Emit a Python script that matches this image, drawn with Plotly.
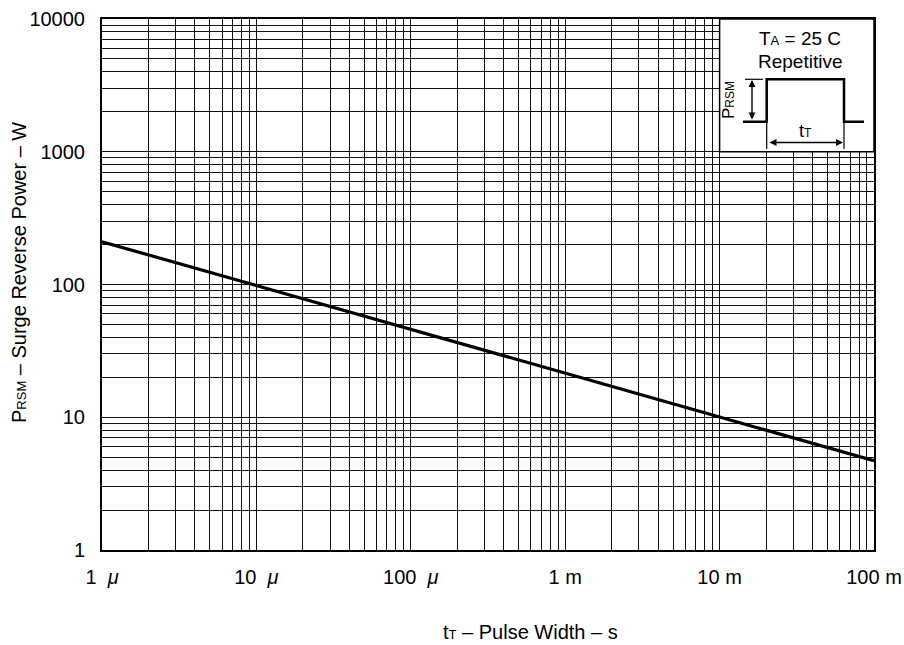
import plotly.graph_objects as go

# ---- data ----
pulse_width_s = [1e-6, 1e-5, 1e-4, 1e-3, 1e-2, 1e-1]
surge_power_w = [210, 98, 46, 21.5, 10, 4.7]

x_decades = [1e-6, 1e-5, 1e-4, 1e-3, 1e-2, 1e-1]
x_decade_labels = ["1&nbsp; <i>μ</i>", "10&nbsp; <i>μ</i>", "100&nbsp; <i>μ</i>", "1 m", "10 m", "100 m"]
y_decades = [1, 10, 100, 1000, 10000]
y_decade_labels = ["1", "10", "100", "1000", "10000"]

FONT = "Liberation Sans, Arial, Helvetica, sans-serif"


def log_grid(decades):
    vals, texts = [], []
    for i, d in enumerate(decades):
        vals.append(d)
        texts.append(None)
        if i < len(decades) - 1:
            for m in range(2, 10):
                vals.append(d * m)
                texts.append("")
    return vals, texts


xv, xt = log_grid(x_decades)
xt = [x_decade_labels[x_decades.index(v)] if t is None else t for v, t in zip(xv, xt)]
yv, yt = log_grid(y_decades)
yt = [y_decade_labels[y_decades.index(v)] if t is None else t for v, t in zip(yv, yt)]

fig = go.Figure()
fig.add_trace(go.Scatter(x=pulse_width_s, y=surge_power_w, mode="lines",
                         line=dict(color="black", width=3.2), showlegend=False,
                         hoverinfo="skip"))

L, R, T, B = 102, 30, 19, 95
W, H = 904, 645
pw, ph = W - L - R, H - T - B


def px(x):
    return (x - L) / pw


def py(y):
    return (H - B - y) / ph


fig.update_layout(
    width=W, height=H,
    margin=dict(l=L, r=R, t=T, b=B, pad=0, autoexpand=False),
    paper_bgcolor="white", plot_bgcolor="white",
    font=dict(family=FONT, size=20, color="black"),
    xaxis=dict(type="log", range=[-6, -1], tickvals=xv, ticktext=xt,
               showgrid=True, gridcolor="#111111", gridwidth=1,
               showline=True, linecolor="black", linewidth=2, mirror=True,
               ticks="", zeroline=False, ticklabelstandoff=8, automargin=False,
               tickfont=dict(size=20)),
    yaxis=dict(type="log", range=[0, 4], tickvals=yv, ticktext=yt,
               showgrid=True, gridcolor="#111111", gridwidth=1,
               showline=True, linecolor="black", linewidth=2, mirror=True,
               ticks="", zeroline=False, ticklabelstandoff=11, automargin=False,
               tickfont=dict(size=20)),
)

# axis titles
fig.add_annotation(xref="paper", yref="paper", x=px(530), y=py(632),
                   text="t<span style='font-size:13px'>T</span> – Pulse Width – s",
                   showarrow=False, font=dict(size=20), xanchor="center", yanchor="middle")
fig.add_annotation(xref="paper", yref="paper", x=px(19), y=py(273),
                   text="P<span style='font-size:13px'>RSM</span> – Surge Reverse Power – W",
                   showarrow=False, textangle=-90, font=dict(size=20),
                   xanchor="center", yanchor="middle")

# inset box (covers 10m-100m, 1000-10000 region)
fig.add_shape(type="rect", xref="paper", yref="paper", x0=0.8, x1=1.0, y0=0.75, y1=1.0,
              fillcolor="white", line=dict(color="black", width=1.5), layer="above")

fig.add_annotation(xref="paper", yref="paper", x=px(800), y=py(38),
                   text="T<span style='font-size:13px'>A</span> = 25 C",
                   showarrow=False, font=dict(size=19), xanchor="center", yanchor="middle")
fig.add_annotation(xref="paper", yref="paper", x=px(800), y=py(62),
                   text="Repetitive", showarrow=False, font=dict(size=19),
                   xanchor="center", yanchor="middle")

# pulse waveform
path = "M {a},{b} L {c},{b} L {c},{d} L {e},{d} L {e},{b} L {f},{b}".format(
    a=px(743), b=py(121.7), c=px(766.7), d=py(79.3), e=px(844), f=px(864))
fig.add_shape(type="path", xref="paper", yref="paper", path=path,
              line=dict(color="black", width=2.5), layer="above")
# short top reference line
fig.add_shape(type="line", xref="paper", yref="paper", x0=px(745), x1=px(763),
              y0=py(79.3), y1=py(79.3), line=dict(color="black", width=1.2), layer="above")
# extension lines for t_T
for xx in (766.7, 844):
    fig.add_shape(type="line", xref="paper", yref="paper", x0=px(xx), x1=px(xx),
                  y0=py(121.7), y1=py(149), line=dict(color="black", width=1.2), layer="above")

# vertical double arrow
fig.add_annotation(xref="paper", yref="paper", x=px(752), y=py(80),
                   ax=0, ay=41, text="", showarrow=True, arrowhead=2, arrowside="end+start",
                   arrowwidth=1.4, arrowsize=1, arrowcolor="black", standoff=0, startstandoff=0)
# horizontal double arrow
fig.add_annotation(xref="paper", yref="paper", x=px(843), y=py(142.5),
                   ax=-75, ay=0, text="", showarrow=True, arrowhead=2, arrowside="end+start",
                   arrowwidth=1.4, arrowsize=1, arrowcolor="black", standoff=0, startstandoff=0)

fig.add_annotation(xref="paper", yref="paper", x=px(728), y=py(100),
                   text="P<span style='font-size:12px'>RSM</span>", showarrow=False,
                   textangle=-90, font=dict(size=17), xanchor="center", yanchor="middle")
fig.add_annotation(xref="paper", yref="paper", x=px(805), y=py(131),
                   text="t<span style='font-size:12px'>T</span>", showarrow=False,
                   font=dict(size=18), xanchor="center", yanchor="middle")

fig.write_html("out.html", config={"displayModeBar": False},
               post_script="document.body.style.margin='0';document.body.style.overflow='hidden';")
